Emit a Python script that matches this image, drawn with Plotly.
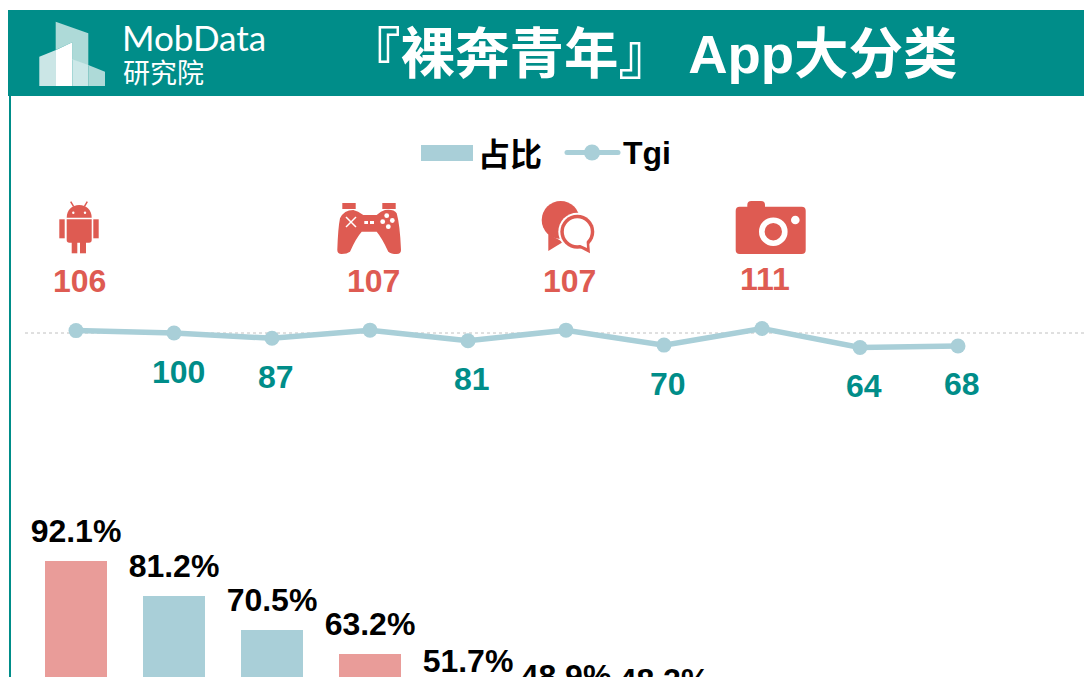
import plotly.graph_objects as go

# ---- data ----
positions = list(range(10))
share_values = [92.1, 81.2, 70.5, 63.2, 51.7, 48.9, 48.2]
tgi_values = [106, 100, 87, 107, 81, 107, 70, 111, 64, 68]
title_text = "『裸奔青年』 App大分类"

# ---- style ----
TEAL = "#008D89"
RED = "#DE5B52"
PINK = "#E99C99"
BLUE = "#A9CFD8"
FONT = "Liberation Sans, Arial, Noto Sans CJK SC, sans-serif"
label_drop = [0, 0, 0, 0, 0, 4, 6]   # px, hand-nudged labels in the reference
LABEL_AXIS_SHIFT = 43
W, H = 1084, 677
BAR_SCALE = 3.218
BAR_ZERO_PX = 857

fig = go.Figure()
fig.add_trace(go.Bar(
    x=positions[:len(share_values)], y=share_values, width=0.633,
    marker=dict(color=[PINK if tgi_values[i] > 100 else BLUE for i in range(len(share_values))], line_width=0),
    showlegend=False, hoverinfo="skip"))
fig.add_trace(go.Scatter(
    x=positions[:len(share_values)], y=share_values, yaxis="y4", mode="markers+text",
    text=[f"{v}%" for v in share_values], textposition="bottom center",
    marker=dict(size=[2 * d for d in label_drop], opacity=0),
    textfont=dict(family=FONT, size=32, color="#000000", weight="bold"),
    cliponaxis=False, showlegend=False, hoverinfo="skip"))
fig.add_trace(go.Scatter(
    x=positions, y=tgi_values, yaxis="y2", mode="lines+markers",
    line=dict(color=BLUE, width=5.5), marker=dict(color=BLUE, size=15),
    showlegend=False, hoverinfo="skip"))
fig.add_trace(go.Scatter(x=[None], y=[None], xaxis="x2", yaxis="y3", showlegend=False, hoverinfo="skip"))

shapes = []
def rect(x0, y0, x1, y1, color, layer="above"):
    shapes.append(dict(type="rect", xref="x2", yref="y3", x0=x0, y0=y0, x1=x1, y1=y1,
                       fillcolor=color, line_width=0, layer=layer))
def circle(cx, cy, r, color):
    shapes.append(dict(type="circle", xref="x2", yref="y3", x0=cx - r, y0=cy - r, x1=cx + r, y1=cy + r,
                       fillcolor=color, line_width=0, layer="above"))
def path(d, color):
    shapes.append(dict(type="path", xref="x2", yref="y3", path=d, fillcolor=color, line_width=0, layer="above"))
def stroke(x0, y0, x1, y1, color, w):
    shapes.append(dict(type="line", xref="x2", yref="y3", x0=x0, y0=y0, x1=x1, y1=y1,
                       line=dict(color=color, width=w), layer="above"))

# header and left rule
rect(8, 10, W, 96, TEAL)
rect(9, 96, 11, H, TEAL)

# logo
path("M55.7,21.7 L88.3,33.3 L88.3,66 L72.3,60 L72.3,42.3 L55.7,50 Z", "#AEDAD8")
path("M39.3,56.7 L56,50 L56,86 L39.3,86 Z", "#CBE6E6")
path("M56,50 L72.3,42.3 L72.3,86 L56,86 Z", "#FFFFFF")
path("M72.3,59.3 L88.3,65 L88.3,86 L72.3,86 Z", "#CCE8E8")
path("M88.3,65 L105,71.7 L105,86 L88.3,86 Z", "#AEDAD8")

# dashed reference line at tgi = 100
shapes.append(dict(type="line", xref="x2", yref="y2", x0=25, x1=W, y0=100, y1=100,
                   line=dict(color="#C0C0C0", width=1, dash="3px,3px"), layer="below"))

# legend swatches
rect(421, 145, 473, 161, BLUE)
stroke(567, 152.5, 618, 152.5, BLUE, 5)
circle(567, 152.5, 2.5, BLUE)
circle(618, 152.5, 2.5, BLUE)
circle(592, 152.5, 8, BLUE)

# android icon
path("M66.7,217.7 C66.7,210 72,205 79.2,205 C86.4,205 91.7,210 91.7,217.7 Z", RED)
path("M66.7,219.3 L91.7,219.3 L91.7,240 Q91.7,242.7 89,242.7 L69.4,242.7 Q66.7,242.7 66.7,240 Z", RED)
rect(59.3, 219.3, 64.7, 238.3, RED)
rect(93.3, 219.3, 98.7, 238.3, RED)
rect(71.7, 242, 77.3, 253.3, RED)
rect(80, 242, 86, 253.3, RED)
stroke(70.7, 201.7, 73.7, 206.7, RED, 1.5)
stroke(87.3, 201.7, 84.3, 206.7, RED, 1.5)
circle(73.3, 212.7, 1.2, "#FFFFFF")
circle(85, 212.7, 1.2, "#FFFFFF")

# gamepad icon
rect(342.3, 203, 355.7, 209, RED)
rect(382.3, 203, 395.7, 209, RED)
path("M353.3,210 Q358,211 363.3,215 L376.7,215 Q381,211 385,210 Q394,209 396.7,213.3 "
     "Q400,225 401,250 Q401,254 396.7,254 Q391,254 388.3,251.7 Q382,238 376.7,231.7 L361.7,231.7 "
     "Q356,238 350,251.7 Q347,254 341.7,254 Q337.3,254 337.3,250 Q338,228 340,218.3 Q344,210 353.3,210 Z", RED)
stroke(346, 217, 356, 227, "#FFFFFF", 1.5)
stroke(356, 217, 346, 227, "#FFFFFF", 1.5)
rect(364.3, 221, 368, 224, "#FFFFFF")
rect(370, 221, 374, 224, "#FFFFFF")
circle(386.7, 215.7, 2.4, "#FFFFFF")
circle(392.3, 220.5, 2.4, "#FFFFFF")
circle(388.3, 226.7, 2.4, "#FFFFFF")
circle(382.7, 221.7, 2.4, "#FFFFFF")

# chat icon
circle(560.7, 220, 19, RED)
path("M548.3,234 L548.3,251 L563,242 Z", RED)
circle(577.3, 231.7, 19, "#FFFFFF")
circle(577.3, 231.7, 17, RED)
path("M589,240 L590,253.3 L576,246 Z", RED)
circle(577.3, 231.7, 13.5, "#FFFFFF")
path("M586.5,240 L587,248 L578,244 Z", "#FFFFFF")

# camera icon
path("M739.7,206.7 L801.7,206.7 Q805.7,206.7 805.7,210.7 L805.7,250 Q805.7,254 801.7,254 "
     "L739.7,254 Q735.7,254 735.7,250 L735.7,210.7 Q735.7,206.7 739.7,206.7 Z", RED)
path("M747.3,207 L747.3,205 Q747.3,201 751.3,201 L761,201 Q765,201 765,205 L765,207 Z", RED)
circle(773.3, 231.7, 14.3, "#FFFFFF")
circle(773.3, 231.7, 8.7, RED)
circle(795.3, 220, 4.3, "#FFFFFF")

anns = []
def text(x, y, s, size, color, bold=True, family=FONT):
    anns.append(dict(xref="x2", yref="y3", x=x, y=y, text=f"<b>{s}</b>" if bold else s, showarrow=False,
                     font=dict(family=family, size=size, color=color), xanchor="center", yanchor="middle"))

text(651.5, 54, title_text, 54.5, "#FFFFFF")
text(193.5, 37, "MobData", 35, "#FFFFFF", bold=False, family="Lato, Noto Sans, sans-serif")
text(163.5, 71, "研究院", 27, "#FFFFFF", bold=False, family="Noto Sans CJK SC, sans-serif")
text(510, 155, "占比", 32, "#000000")
text(647, 153, "Tgi", 32, "#000000")

for p, v in zip(positions, tgi_values):
    hi = v > 100
    anns.append(dict(xref="x", yref="y2", x=p, y=v, xshift=3 if hi else 4, yshift=49.5 if hi else -38.5,
                     text=f"<b>{v}</b>", showarrow=False, xanchor="center", yanchor="middle",
                     font=dict(family=FONT, size=32, color=RED if hi else TEAL)))

hidden = dict(visible=False, fixedrange=True)
fig.update_layout(
    width=W, height=H, margin=dict(l=0, r=0, t=0, b=0), autosize=False,
    paper_bgcolor="#FFFFFF", plot_bgcolor="rgba(0,0,0,0)", bargap=0,
    xaxis=dict(range=[-76 / 98, (W - 76) / 98], **hidden),
    yaxis=dict(range=[(BAR_ZERO_PX - H) / BAR_SCALE, BAR_ZERO_PX / BAR_SCALE], **hidden),
    yaxis2=dict(range=[100 - (H - 333) / 0.404, 100 + 333 / 0.404], overlaying="y", **hidden),
    xaxis2=dict(range=[0, W], overlaying="x", anchor="y3", **hidden),
    yaxis3=dict(range=[H, 0], overlaying="y", anchor="x2", **hidden),
    yaxis4=dict(range=[(BAR_ZERO_PX - LABEL_AXIS_SHIFT - H) / BAR_SCALE,
                       (BAR_ZERO_PX - LABEL_AXIS_SHIFT) / BAR_SCALE], overlaying="y", **hidden),
    shapes=shapes, annotations=anns,
)
fig.write_html("out.html", config=dict(displayModeBar=False),
               post_script="document.body.style.margin='0';document.documentElement.style.overflow='hidden';")
